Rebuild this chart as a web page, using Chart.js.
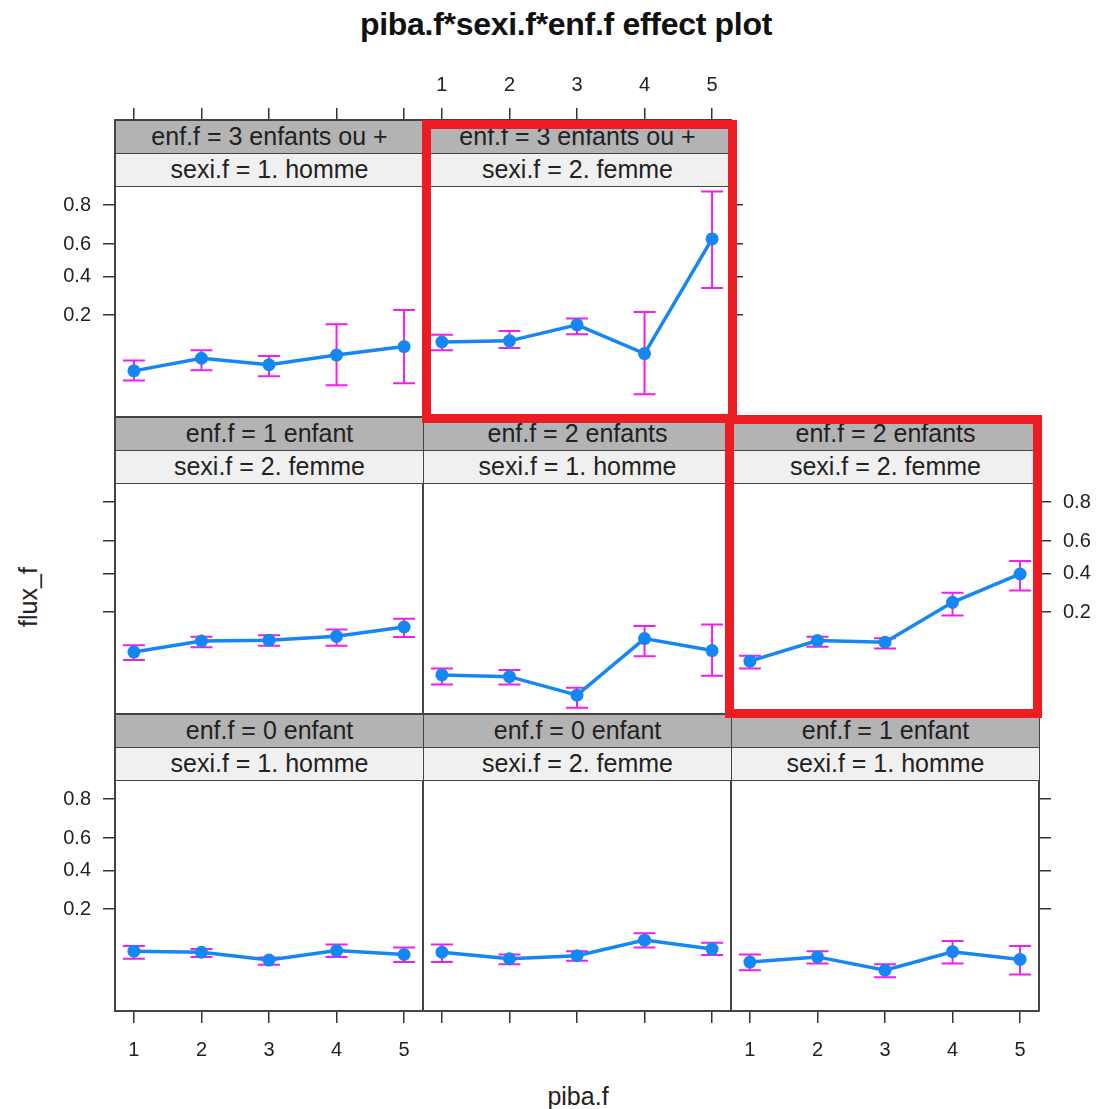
<!DOCTYPE html>
<html>
<head>
<meta charset="utf-8">
<script src="https://cdn.jsdelivr.net/npm/chart.js@4.4.0/dist/chart.umd.min.js"></script>
<style>
  body { margin: 0; background: #fff; font-family: "Liberation Sans", Arial, sans-serif; }
  #page { position: relative; width: 1097px; height: 1109px; overflow: hidden; }
  #page canvas { position: absolute; }
  .txt { position: absolute; white-space: nowrap; color: #222; }
  .strip { position: absolute; box-sizing: border-box; border: 1.5px solid #444; text-align: center;
           font-size: 25px; line-height: 30px; color: #222; white-space: nowrap; overflow: hidden; }
  .redbox { position: absolute; box-sizing: border-box; border: 9px solid #ec1c24; }
</style>
</head>
<body>
<div id="page">
  <div class="txt" style="left:566px; top:6px; transform:translateX(-50%); font-size:32px; font-weight:bold; color:#111; letter-spacing:-0.3px;">piba.f*sexi.f*enf.f effect plot</div>
  <div class="txt" style="left:28px; top:597px; transform:translate(-50%,-50%) rotate(-90deg); font-size:25px;">flux_f</div>
  <div class="txt" style="left:578px; top:1096px; transform:translate(-50%,-50%); font-size:25px;">piba.f</div>
</div>
<script>
// x levels and y ticks (probability scale, drawn on logit axis)
var pibaLevels = [1, 2, 3, 4, 5];
var yTickProbs = [0.2, 0.4, 0.6, 0.8];
var yTickLabels = ['0.2', '0.4', '0.6', '0.8'];

// enf.f = 0 enfant
var fit0H = [0.080, 0.078, 0.065, 0.081, 0.074];
var lo0H  = [0.067, 0.070, 0.058, 0.070, 0.062];
var hi0H  = [0.090, 0.084, 0.069, 0.093, 0.087];
var fit0F = [0.078, 0.067, 0.072, 0.103, 0.084];
var lo0F  = [0.062, 0.059, 0.064, 0.087, 0.073];
var hi0F  = [0.093, 0.074, 0.080, 0.120, 0.097];
// enf.f = 1 enfant
var fit1H = [0.062, 0.070, 0.051, 0.079, 0.066];
var lo1H  = [0.051, 0.060, 0.043, 0.060, 0.046];
var hi1H  = [0.074, 0.080, 0.059, 0.101, 0.090];
var fit1F = [0.084, 0.108, 0.110, 0.120, 0.147];
var lo1F  = [0.070, 0.094, 0.097, 0.097, 0.118];
var hi1F  = [0.098, 0.119, 0.123, 0.139, 0.175];
// enf.f = 2 enfants
var fit2H = [0.049, 0.047, 0.030, 0.114, 0.087];
var lo2H  = [0.039, 0.039, 0.022, 0.076, 0.048];
var hi2H  = [0.057, 0.055, 0.036, 0.150, 0.155];
var fit2F = [0.068, 0.109, 0.105, 0.243, 0.396];
var lo2F  = [0.057, 0.095, 0.091, 0.187, 0.302];
var hi2F  = [0.077, 0.119, 0.115, 0.290, 0.476];
// enf.f = 3 enfants ou +
var fit3H = [0.058, 0.078, 0.067, 0.084, 0.102];
var lo3H  = [0.046, 0.059, 0.051, 0.041, 0.043];
var hi3H  = [0.074, 0.094, 0.082, 0.166, 0.222];
var fit3F = [0.113, 0.116, 0.164, 0.087, 0.631];
var lo3F  = [0.094, 0.099, 0.134, 0.033, 0.332];
var hi3F  = [0.133, 0.144, 0.187, 0.213, 0.850];

// layout
var M = 80, PW = 308, PH = 297, STRIP = 33;
var colLeft = [115, 423, 731];
var rowTop = [120, 417, 714];
var xMin = 0.72, xMax = 5.28;
var yMin = -3.95, yMax = 3.533;   // top part of the range sits under the strips

var lineColor = '#1587f5', ciColor = '#f01ef0', frameColor = '#444', textColor = '#222';

function logit(p) { return Math.log(p / (1 - p)); }

var panels = [
  { enf: 'enf.f = 3 enfants ou +', sexi: 'sexi.f = 1. homme', fit: fit3H, lo: lo3H, hi: hi3H, row: 0, col: 0,
    top: [true, false], left: [true, true], right: [false, false], bottom: [false, false] },
  { enf: 'enf.f = 3 enfants ou +', sexi: 'sexi.f = 2. femme', fit: fit3F, lo: lo3F, hi: hi3F, row: 0, col: 1,
    top: [true, true], left: [false, false], right: [true, false], bottom: [false, false] },
  { enf: 'enf.f = 1 enfant', sexi: 'sexi.f = 2. femme', fit: fit1F, lo: lo1F, hi: hi1F, row: 1, col: 0,
    top: [false, false], left: [true, false], right: [false, false], bottom: [false, false] },
  { enf: 'enf.f = 2 enfants', sexi: 'sexi.f = 1. homme', fit: fit2H, lo: lo2H, hi: hi2H, row: 1, col: 1,
    top: [false, false], left: [false, false], right: [false, false], bottom: [false, false] },
  { enf: 'enf.f = 2 enfants', sexi: 'sexi.f = 2. femme', fit: fit2F, lo: lo2F, hi: hi2F, row: 1, col: 2,
    top: [false, false], left: [false, false], right: [true, true], bottom: [false, false] },
  { enf: 'enf.f = 0 enfant', sexi: 'sexi.f = 1. homme', fit: fit0H, lo: lo0H, hi: hi0H, row: 2, col: 0,
    top: [false, false], left: [true, true], right: [false, false], bottom: [true, true] },
  { enf: 'enf.f = 0 enfant', sexi: 'sexi.f = 2. femme', fit: fit0F, lo: lo0F, hi: hi0F, row: 2, col: 1,
    top: [false, false], left: [false, false], right: [false, false], bottom: [true, false] },
  { enf: 'enf.f = 1 enfant', sexi: 'sexi.f = 1. homme', fit: fit1H, lo: lo1H, hi: hi1H, row: 2, col: 2,
    top: [false, false], left: [false, false], right: [true, false], bottom: [true, true] }
];

var errorBars = {
  id: 'errorBars',
  beforeDatasetsDraw: function (chart) {
    var ctx = chart.ctx, xs = chart.scales.x, ys = chart.scales.y;
    chart.data.datasets.forEach(function (ds) {
      ctx.save();
      ctx.strokeStyle = ciColor;
      ctx.lineWidth = 2;
      ds.lower.forEach(function (lo, i) {
        var px = xs.getPixelForValue(pibaLevels[i]);
        var y1 = ys.getPixelForValue(logit(lo));
        var y2 = ys.getPixelForValue(logit(ds.upper[i]));
        ctx.beginPath();
        ctx.moveTo(px, y1); ctx.lineTo(px, y2);
        ctx.moveTo(px - 11, y1); ctx.lineTo(px + 11, y1);
        ctx.moveTo(px - 11, y2); ctx.lineTo(px + 11, y2);
        ctx.stroke();
      });
      ctx.restore();
    });
  }
};

function xAxis(pos, show) {
  return {
    type: 'linear', position: pos, min: xMin, max: xMax,
    afterBuildTicks: function (s) { s.ticks = pibaLevels.map(function (v) { return { value: v }; }); },
    afterFit: function (s) { s.height = M; },
    grid: { drawOnChartArea: false, drawTicks: show[0], tickLength: 12, color: '#333', lineWidth: 1.5 },
    border: { display: true, color: frameColor, width: 2 },
    ticks: { display: show[1], padding: pos === 'bottom' ? 15 : 11, color: textColor, font: { size: 20 }, autoSkip: false, maxRotation: 0 }
  };
}

function yAxis(pos, show) {
  return {
    type: 'linear', position: pos, min: yMin, max: yMax,
    afterBuildTicks: function (s) { s.ticks = yTickProbs.map(function (p) { return { value: logit(p) }; }); },
    afterFit: function (s) { s.width = M; },
    grid: { drawOnChartArea: false, drawTicks: show[0], tickLength: 12, color: '#333', lineWidth: 1.5 },
    border: { display: true, color: frameColor, width: 2 },
    ticks: { display: show[1], padding: 12, color: textColor, font: { size: 20 }, autoSkip: false,
             callback: function (v, i) { return yTickLabels[i]; } }
  };
}

var page = document.getElementById('page');

panels.forEach(function (p) {
  var cv = document.createElement('canvas');
  cv.width = PW + 2 * M;
  cv.height = PH + 2 * M;
  cv.style.left = (colLeft[p.col] - M) + 'px';
  cv.style.top = (rowTop[p.row] - M) + 'px';
  page.appendChild(cv);

  new Chart(cv, {
    type: 'line',
    data: {
      datasets: [{
        data: p.fit.map(function (f, i) { return { x: pibaLevels[i], y: logit(f) }; }),
        lower: p.lo,
        upper: p.hi,
        borderColor: lineColor,
        backgroundColor: lineColor,
        borderWidth: 3.5,
        pointRadius: 6.5,
        pointBorderWidth: 0,
        pointBackgroundColor: lineColor,
        tension: 0
      }]
    },
    options: {
      responsive: false,
      animation: false,
      events: [],
      layout: { padding: 0 },
      plugins: { legend: { display: false }, tooltip: { enabled: false } },
      scales: {
        x: xAxis('bottom', p.bottom),
        x2: xAxis('top', p.top),
        y: yAxis('left', p.left),
        y2: yAxis('right', p.right)
      }
    },
    plugins: [errorBars]
  });
});

// strips on top of each panel
panels.forEach(function (p) {
  var s1 = document.createElement('div');
  s1.className = 'strip';
  s1.style.cssText = 'left:' + colLeft[p.col] + 'px;top:' + rowTop[p.row] + 'px;width:' + (PW + 1) + 'px;height:' + (STRIP + 1) + 'px;background:#b3b3b3;';
  s1.textContent = p.enf;
  page.appendChild(s1);
  var s2 = document.createElement('div');
  s2.className = 'strip';
  s2.style.cssText = 'left:' + colLeft[p.col] + 'px;top:' + (rowTop[p.row] + STRIP) + 'px;width:' + (PW + 1) + 'px;height:' + (STRIP + 1) + 'px;background:#f0f0f0;';
  s2.textContent = p.sexi;
  page.appendChild(s2);
});

// red highlight boxes
[[422, 120, 315, 303], [725, 415, 317, 303]].forEach(function (r) {
  var d = document.createElement('div');
  d.className = 'redbox';
  d.style.cssText = 'left:' + r[0] + 'px;top:' + r[1] + 'px;width:' + r[2] + 'px;height:' + r[3] + 'px;';
  page.appendChild(d);
});
</script>
</body>
</html>
